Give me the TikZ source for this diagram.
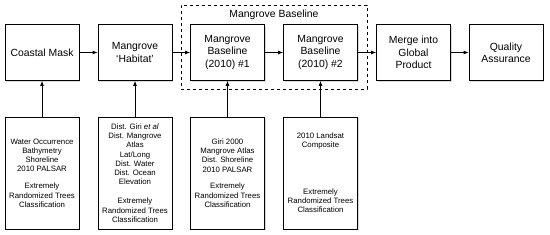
\documentclass[tikz,border=0pt]{standalone}
\usepackage{fontspec}
\setmainfont{Liberation Sans}
\usetikzlibrary{arrows.meta,shadows}

\begin{document}
\begin{tikzpicture}[x=1pt,y=-1pt,
  stage/.style={draw,line width=0.8pt,fill=white,minimum width=74pt,minimum height=56pt,
    align=center,inner sep=1pt,font=\fontsize{10.4}{12.3}\selectfont,
    drop shadow={shadow xshift=1.2pt,shadow yshift=-1.2pt,opacity=0.3}},
  inputs/.style={stage,minimum height=112pt,font=\fontsize{7.8}{9.3}\selectfont},
  flow/.style={-{Latex[length=5pt,width=4pt]},line width=0.8pt}]
\useasboundingbox (0,0) rectangle (550,235);

% group around the two baseline steps
\node[draw,dashed,line width=0.7pt,minimum width=186pt,minimum height=84pt] (baseline) at (274,47) {};
\node[font=\fontsize{10.4}{12.3}\selectfont] (baselinelbl) at (274,15) {Mangrove Baseline};

% main chain
\node[stage] (mask) at (42,52.5) {Coastal Mask};
\node[stage] (habitat) at (135,52.5) {Mangrove\\`Habitat'};
\node[stage] (base1) at (227.5,52.5) {Mangrove\\Baseline\\(2010) \#1};
\node[stage] (base2) at (320.5,52.5) {Mangrove\\Baseline\\(2010) \#2};
\node[stage] (merge) at (413.5,52.5) {Merge into\\Global\\Product};
\node[stage] (qa) at (506,52.5) {Quality\\Assurance};

% input data
\node[inputs] (inmask) at (42,173) {Water Occurrence\\Bathymetry\\Shoreline\\2010 PALSAR\\[7.5pt]
  Extremely\\Randomized Trees\\Classification};
\node[inputs] (inhabitat) at (135,173) {Dist. Giri \textit{et al}\\Dist. Mangrove\\Atlas\\Lat/Long\\Dist. Water\\Dist. Ocean\\Elevation\\[9.5pt]
  Extremely\\Randomized Trees\\Classification};
\node[inputs] (inbase1) at (227.5,173) {Giri 2000\\Mangrove Atlas\\Dist. Shoreline\\2010 PALSAR\\[7.5pt]
  Extremely\\Randomized Trees\\Classification};
\node[inputs] (inbase2) at (320.5,173) {2010 Landsat\\Composite\\[37pt]
  Extremely\\Randomized Trees\\Classification};

\draw[flow] (mask) -- (habitat);
\draw[flow] (habitat) -- (base1);
\draw[flow] (base1) -- (base2);
\draw[flow] (base2) -- (merge);
\draw[flow] (merge) -- (qa);

\draw[flow] (inmask) -- (mask);
\draw[flow] (inhabitat) -- (habitat);
\draw[flow] (inbase1) -- (base1);
\draw[flow] (inbase2) -- (base2);
\end{tikzpicture}
\end{document}
